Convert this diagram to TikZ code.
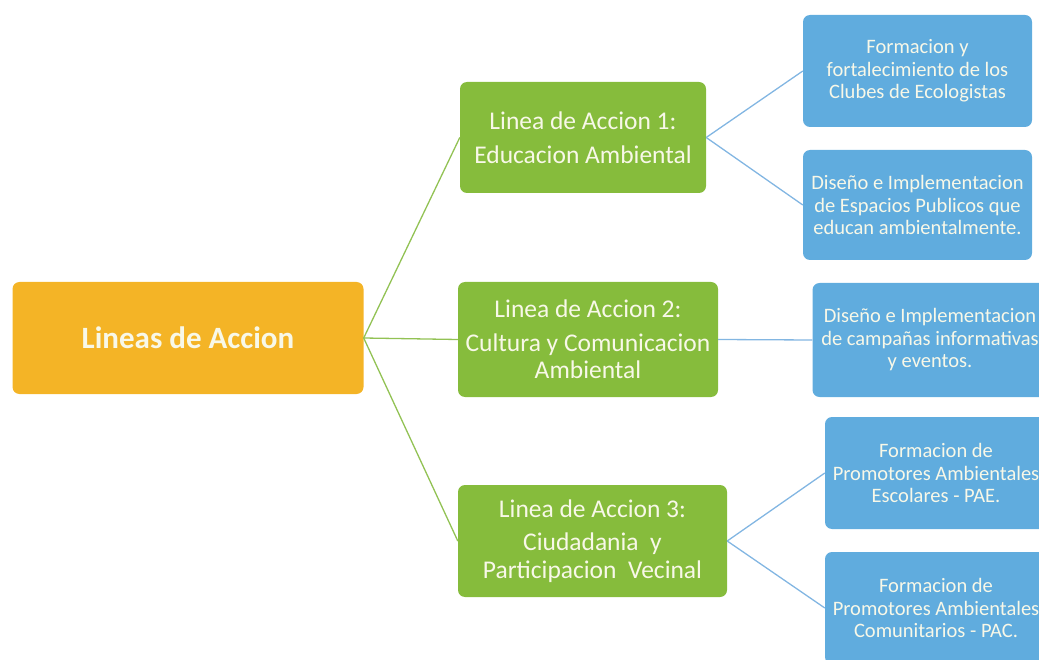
\documentclass[tikz,border=0pt]{standalone}
\usepackage{fontspec}
\setmainfont{Carlito}
\definecolor{accorange}{RGB}{244,180,38}
\definecolor{accgreen}{RGB}{134,188,60}
\definecolor{accblue}{RGB}{96,172,222}
\definecolor{greenwire}{RGB}{146,194,84}
\definecolor{bluewire}{RGB}{130,182,226}
\definecolor{boxtext}{RGB}{248,248,232}
\begin{document}
\begin{tikzpicture}[x=1pt, y=-1pt,
    box/.style={rounded corners=7pt, text=boxtext, align=center, inner sep=0pt},
    wire/.style={line width=1.3pt}]
\clip (0,0) rectangle (1039,660);
\node[box, fill=accorange, minimum width=351pt, minimum height=112pt,
      font=\bfseries\fontsize{31}{36}\selectfont] (root) at (188,338) {Lineas de Accion};
\foreach \n/\x/\y/\w/\h/\txt in {
    g1/583/137.5/246/111/{Linea de Accion 1:\\[6pt]Educacion Ambiental},
    g2/588/339.5/260/115/{Linea de Accion 2:\\[6pt]Cultura y Comunicacion\\Ambiental},
    g3/592.5/541/269/112/{Linea de Accion 3:\\[6pt]Ciudadania\ \ y\\Participacion\ \ Vecinal}} {
    \node[box, fill=accgreen, minimum width=\w pt, minimum height=\h pt,
          font=\fontsize{25.5}{27.5}\selectfont] (\n) at (\x,\y) {\txt};
}
\foreach \n/\x/\y/\w/\h/\txt in {
    b1/917.5/71/229/112/{Formacion y\\fortalecimiento de los\\Clubes de Ecologistas},
    b2/917.5/205/229/110/{Diseño e Implementacion\\de Espacios Publicos que\\educan ambientalmente.},
    b3/930/340/235/114/{Diseño e Implementacion\\de campañas informativas\\y eventos.},
    b4/936/473/222/112/{Formacion de\\Promotores Ambientales\\Escolares - PAE.},
    b5/936/608/222/112/{Formacion de\\Promotores Ambientales\\Comunitarios - PAC.}} {
    \node[box, fill=accblue, minimum width=\w pt, minimum height=\h pt,
          font=\fontsize{20.5}{22.5}\selectfont] (\n) at (\x,\y) {\txt};
}
\foreach \g in {g1,g2,g3}
    \draw[wire, greenwire] (root.east) -- (\g.west);
\foreach \g/\b in {g1/b1, g1/b2, g2/b3, g3/b4, g3/b5}
    \draw[wire, bluewire] (\g.east) -- (\b.west);
\end{tikzpicture}
\end{document}
